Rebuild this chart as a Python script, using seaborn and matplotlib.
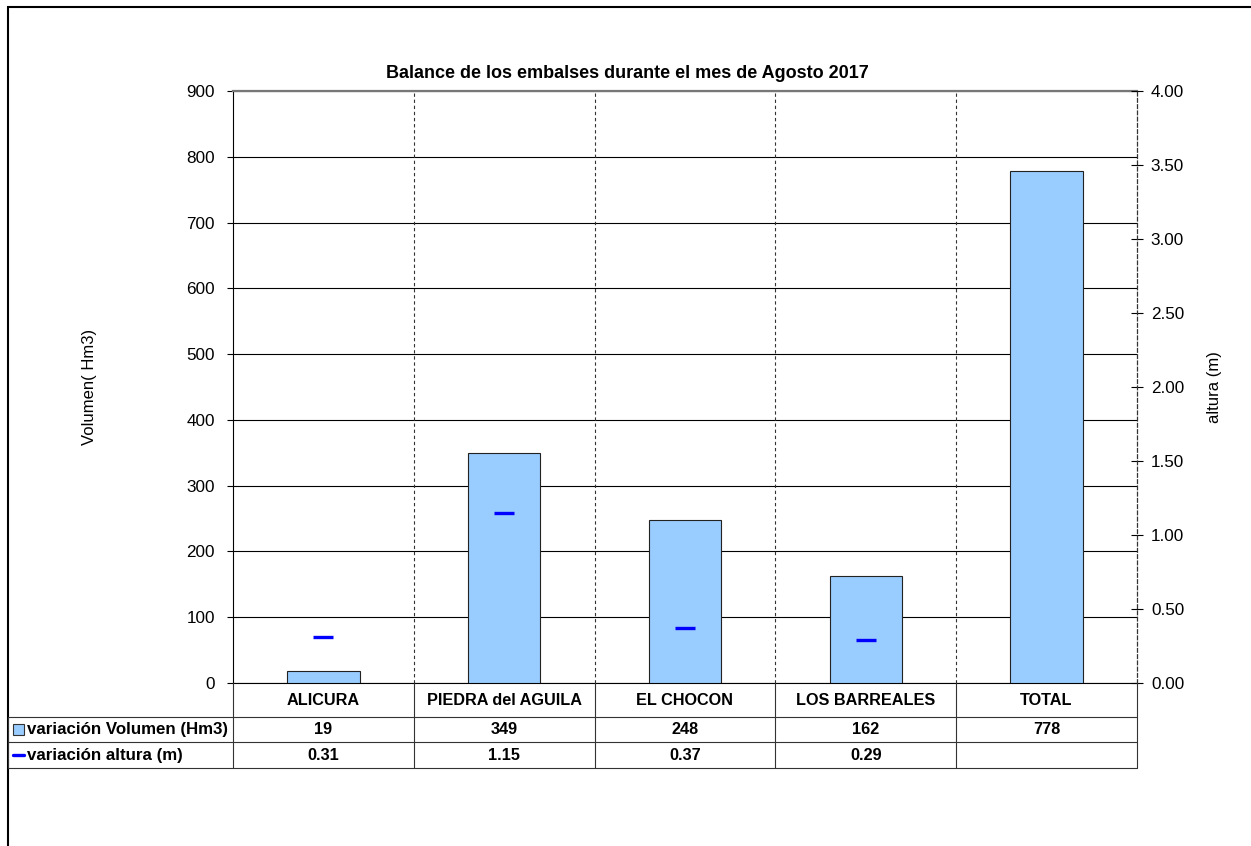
import numpy as np
import pandas as pd
import matplotlib
matplotlib.use("Agg")
import matplotlib.pyplot as plt
import matplotlib.patches as mpatches
from matplotlib.lines import Line2D
import seaborn as sns

# ---- data ----
categorias = ["ALICURA", "PIEDRA del AGUILA", "EL CHOCON", "LOS BARREALES", "TOTAL"]
volumen = [19, 349, 248, 162, 778]
altura_cats = ["ALICURA", "PIEDRA del AGUILA", "EL CHOCON", "LOS BARREALES"]
altura = [0.31, 1.15, 0.37, 0.29]
vol_labels = ["19", "349", "248", "162", "778"]
alt_labels = ["0.31", "1.15", "0.37", "0.29", ""]
serie_vol = "variación Volumen (Hm3)"
serie_alt = "variación altura (m)"
titulo = "Balance de los embalses durante el mes de Agosto 2017"

sns.set_style("white")
plt.rcParams["font.family"] = ["Liberation Sans", "DejaVu Sans"]
plt.rcParams["text.color"] = "black"
plt.rcParams["axes.labelcolor"] = "black"

W, H = 1251, 846
fig = plt.figure(figsize=(W / 100, H / 100), dpi=100)

def fx(px):
    return px / W

def fy(py):
    return 1 - py / H

TICK_FS = 12.3
TAB_FS = 11.7

L, R, T, B = 233, 1137, 91, 683
ax = fig.add_axes([fx(L), fy(B), fx(R - L), (B - T) / H])

df_v = pd.DataFrame({"cat": categorias, "vol": volumen})
sns.barplot(data=df_v, x="cat", y="vol", order=categorias, ax=ax,
            color="#99CCFF", saturation=1, width=0.4,
            edgecolor="#222222", linewidth=0.8, zorder=3)

ax.set_xlim(-0.5, len(categorias) - 0.5)
ax.set_ylim(0, 900)
ax.set_yticks(np.arange(0, 901, 100))
ax.set_xticks([])
ax.set_xlabel("")
ax.set_ylabel("Volumen( Hm3)", fontsize=12, labelpad=0)
ax.yaxis.set_label_coords((97 - L) / (R - L), 0.5)
ax.tick_params(axis="y", direction="out", length=4, width=0.8, labelsize=TICK_FS,
               pad=9, colors="black", left=True)
ax.yaxis.grid(True, color="black", linewidth=0.8, zorder=0)
ax.set_axisbelow(True)
for i in range(len(categorias) - 1):
    ax.axvline(i + 0.5, color="#333333", linewidth=0.8, linestyle=(0, (3, 2.5)), zorder=1)
ax.spines["left"].set_color("black")
ax.spines["left"].set_linewidth(0.8)
ax.spines["bottom"].set_color("black")
ax.spines["bottom"].set_linewidth(0.8)
ax.spines["top"].set_color("#777777")
ax.spines["top"].set_linewidth(1.6)
ax.spines["right"].set_visible(False)

ax2 = ax.twinx()
df_a = pd.DataFrame({"cat": altura_cats, "alt": altura})
sns.pointplot(data=df_a, x="cat", y="alt", order=categorias, ax=ax2,
              color="#0000FF", linestyle="none", marker="_", markersize=14,
              markeredgewidth=2.4, errorbar=None, zorder=5)
ax2.set_xlim(-0.5, len(categorias) - 0.5)
ax2.set_ylim(0, 4)
ax2.set_yticks(np.arange(0, 4.01, 0.5))
ax2.set_yticklabels([f"{v:.2f}" for v in np.arange(0, 4.01, 0.5)])
ax2.set_xticks([])
ax2.set_xlabel("")
ax2.set_ylabel("altura (m)", fontsize=12)
ax2.yaxis.set_label_coords((1207 - L) / (R - L), 0.5)
ax2.tick_params(axis="y", direction="inout", length=8, width=0.8, labelsize=TICK_FS,
                pad=6, colors="black", right=True)
for s in ["left", "top", "bottom"]:
    ax2.spines[s].set_visible(False)
ax2.spines["right"].set_linestyle((0, (3, 2)))
ax2.spines["right"].set_color("#333333")
ax2.spines["right"].set_linewidth(0.9)
ax2.grid(False)

# ---- title ----
fig.text(fx(627), fy(74), titulo, ha="center", va="center",
         fontsize=13, fontweight="bold")

# ---- data table ----
def line(x0, y0, x1, y1, color="#333333", lw=0.8):
    fig.add_artist(Line2D([fx(x0), fx(x1)], [fy(y0), fy(y1)], color=color, lw=lw,
                          transform=fig.transFigure))

n = len(categorias)
colw = (R - L) / n
rows = [683, 717, 742, 768]
for y in rows[1:]:
    line(8, y, R, y)
line(L, B, L, rows[-1])
line(8, rows[1], 8, rows[-1])
line(R, B, R, rows[-1])
for i in range(1, n):
    line(L + i * colw, B, L + i * colw, rows[-1])

for i, c in enumerate(categorias):
    cx = fx(L + (i + 0.5) * colw)
    fig.text(cx, fy((rows[0] + rows[1]) / 2), c, ha="center", va="center",
             fontsize=TAB_FS, fontweight="bold")
    fig.text(cx, fy((rows[1] + rows[2]) / 2), vol_labels[i], ha="center", va="center",
             fontsize=TAB_FS, fontweight="bold")
    fig.text(cx, fy((rows[2] + rows[3]) / 2), alt_labels[i], ha="center", va="center",
             fontsize=TAB_FS, fontweight="bold")

fig.text(fx(27), fy((rows[1] + rows[2]) / 2), serie_vol, ha="left", va="center",
         fontsize=12.2, fontweight="bold")
fig.text(fx(27), fy((rows[2] + rows[3]) / 2), serie_alt, ha="left", va="center",
         fontsize=12.2, fontweight="bold")
fig.add_artist(mpatches.Rectangle((fx(13), fy(735)), fx(11), 11 / H,
                                  facecolor="#99CCFF", edgecolor="#333333", lw=0.8,
                                  transform=fig.transFigure))
line(13, 755, 24, 755, color="#0000FF", lw=2.4)

# ---- outer frame ----
fig.add_artist(mpatches.Rectangle((fx(8), -0.05), 1.2, fy(7) + 0.05, fill=False,
                                  edgecolor="black", lw=1.5, transform=fig.transFigure))

fig.savefig("out.png", dpi=100)
